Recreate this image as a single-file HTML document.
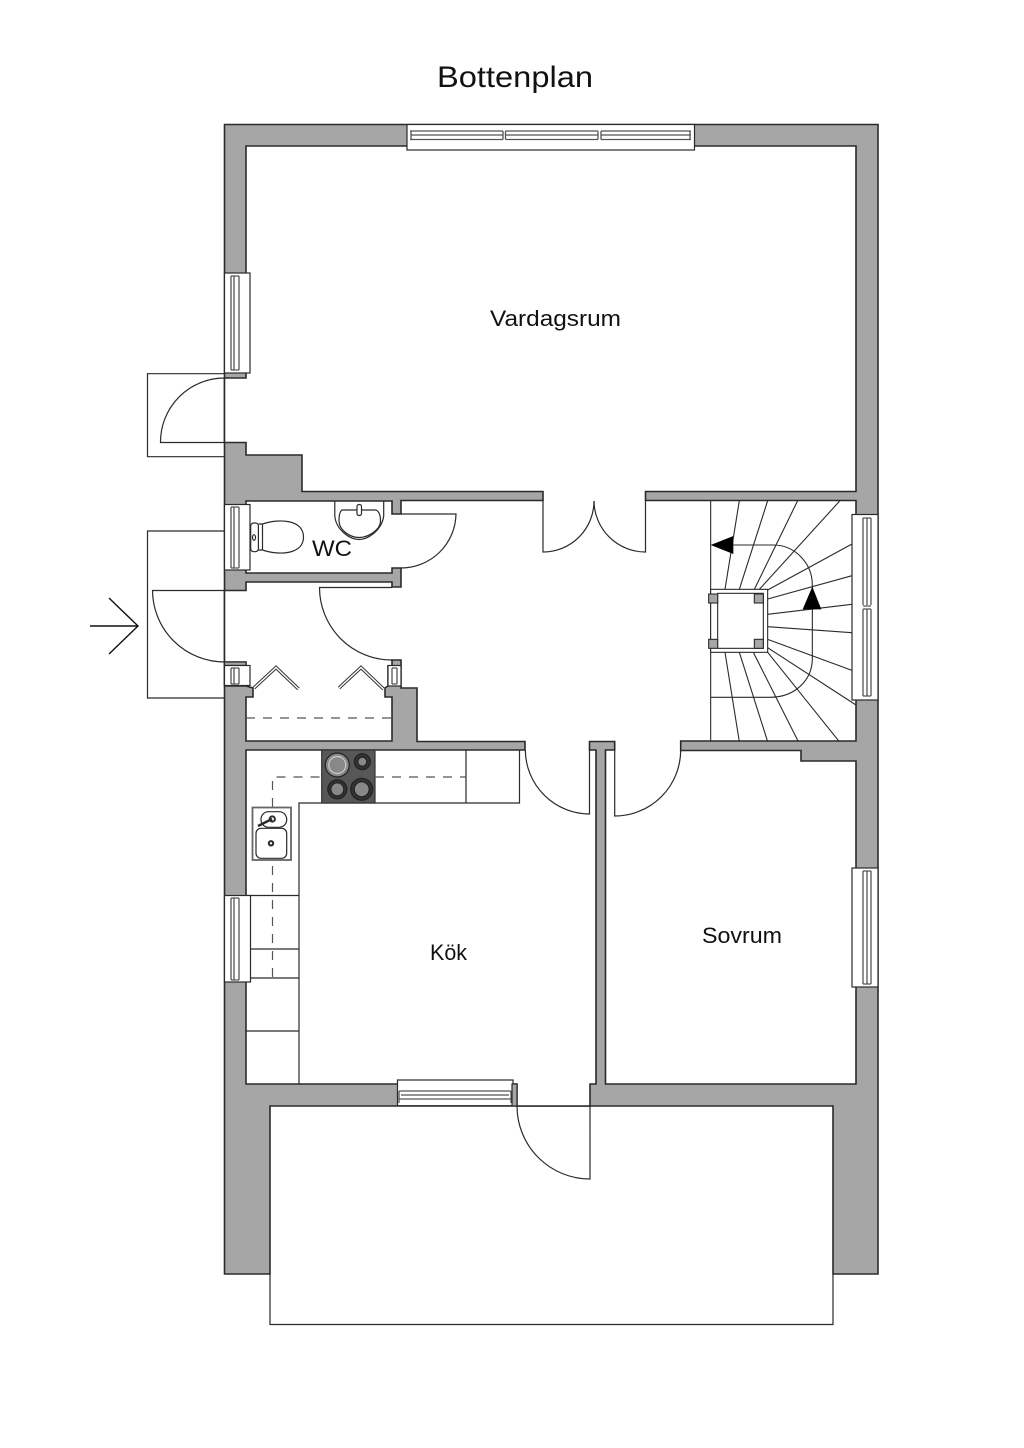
<!DOCTYPE html>
<html><head><meta charset="utf-8"><style>
html,body{margin:0;padding:0;background:#fff}
svg{display:block}
text{font-family:"Liberation Sans",sans-serif;fill:#111}
</style></head><body>
<svg width="1024" height="1448" viewBox="0 0 1024 1448" xmlns="http://www.w3.org/2000/svg">
<rect width="1024" height="1448" fill="#fff"/>
<g stroke="#2a2a2a" stroke-width="1.2" fill="none">
<!-- door outer rects -->
<path d="M224.5 373.7H147.5V456.7H224.5"/>
<path d="M224.5 531H147.5V698H224.5"/>
<!-- walls -->
<path fill="#a6a6a6" stroke-width="1.6" d="M224.5 124.5H878V1274H833V1106H270V1274H224.5Z"/>
<path fill="#fff" stroke-width="1.6" d="M246 146H856V491.5H645.5V500.5H856V741H680.7V750.5H801V761H856V1084H605.5V750H614.7V741.5H589.5V750H596V1084H590V1106H517V1084H246V750H525V741.5H417V688H401V660H392V666H388V686L385 688V697H392V741H246V697H253V688L246 686H224.5V662H246V665H224.5V590.5H246V582H392V587H401V568H392V573H246V501H392V514H401V500.5H543V491.5H302V455H246V442.5H224.5V378H246Z"/>
<rect x="224.5" y="662" width="21.5" height="3.5" fill="#a6a6a6"/>
<!-- balcony -->
<path d="M270 1274V1324.5H833V1274" stroke-width="1.2"/>
<path d="M517 1106H590" stroke-width="1"/>
<!-- door leaves -->
<path d="M224.5 378A64 64 0 0 0 160.5 442.5H224.5"/>
<path d="M224.5 662A72 72 0 0 1 152.5 590.5H224.5"/>
<path d="M392 660A72.5 72.5 0 0 1 319.5 587.5H392"/>
<path d="M401 514H456A55 55 0 0 1 401 568"/>
<path d="M543 500.5V552A51 51 0 0 0 594 501"/>
<path d="M645.5 500.5V552A51.500 51.500 0 0 1 594 501"/>
<path d="M525.3 750A64.500 64.500 0 0 0 589.500 814V750"/>
<path d="M680.700 750A66 66 0 0 1 614.700 816V750"/>
<path d="M517 1106A73 73 0 0 0 590 1179V1106"/>
<!-- kitchen cabinets -->
<path d="M519.500 750V803H299V1084M466 750V803M246 895.500H299M246 949H299M246 978H299M246 1031H299"/>
<!-- windows -->
<g fill="#fff">
<rect x="407" y="124.500" width="287.500" height="25.500"/>
<g stroke="#555" stroke-width="1.300">
<path d="M410 131H503M410 139.500H503M411 135H503M411 131V139.500M503 131V139.500M505.500 131H598M505.500 139.500H598M505.500 135H598M505.500 131V139.500M598 131V139.500M601 131H691M601 139.500H691M601 135H691M601 131V139.500M690 131V139.500"/>
<rect x="224.500" y="273" width="25.500" height="100" stroke="#2a2a2a" stroke-width="1.200"/>
<path d="M231 276V370M239 276V370M234 276V370M231 276H239M231 370H239"/>
<rect x="224.500" y="504.500" width="25.500" height="65.500" stroke="#2a2a2a" stroke-width="1.200"/>
<path d="M231 507V568M239 507V568M234 507V568M231 507H239M231 568H239"/>
<rect x="224.500" y="665.500" width="25.500" height="20" stroke="#2a2a2a" stroke-width="1.200"/>
<path d="M231 668V684M239 668V684M234 668V684M231 668H239M231 684H239"/>
<rect x="388" y="665.500" width="13" height="20.500" stroke="#2a2a2a" stroke-width="1.200"/>
<path d="M392 668V684M397 668V684M392 668H397M392 684H397"/>
<rect x="852" y="514.500" width="26" height="185.500" stroke="#2a2a2a" stroke-width="1.200"/>
<path d="M863 518V605M871 518V605M867 518V605M863 518H871M863 609V696M871 609V696M867 609V696M863 606H871M863 609H871M863 696H871"/>
<rect x="852" y="868" width="26" height="119" stroke="#2a2a2a" stroke-width="1.200"/>
<path d="M863 871V984M871 871V984M867 871V984M863 871H871M863 984H871"/>
<rect x="224.500" y="895.500" width="26" height="86.500" stroke="#2a2a2a" stroke-width="1.200"/>
<path d="M231 898V980M239 898V980M234 898V980M231 898H239M231 980H239"/>
<rect x="397.500" y="1080" width="115.500" height="25.700" stroke="#2a2a2a" stroke-width="1.200"/>
<path d="M399 1091H511M399 1099H511M401 1095H509M399 1091V1103M511 1091V1103"/>
</g>
<rect x="512" y="1084" width="5" height="22" fill="#a6a6a6"/>
</g>
<!-- closet folding doors -->
<path d="M254 688L276 667.500L298.500 689M339 688L361 667.500L383.500 689" stroke="#333" stroke-width="3.400"/>
<path d="M254 688L276 667.500L298.500 689M339 688L361 667.500L383.500 689" stroke="#fff" stroke-width="1.400"/>
<path d="M246 718H392" stroke="#555" stroke-dasharray="9 8"/>
<!-- kitchen -->
<rect x="321.700" y="750" width="53.300" height="53" fill="#575757" stroke="#333"/>
<g stroke="#222">
<circle cx="337.300" cy="765" r="12" fill="#888"/><circle cx="337.300" cy="765" r="8.500" fill="#888" stroke="#ccc"/>
<circle cx="362.300" cy="761.700" r="8" fill="#333"/><circle cx="362.300" cy="761.700" r="4.500" fill="#888"/>
<circle cx="337.300" cy="789.300" r="9.500" fill="#333"/><circle cx="337.300" cy="789.300" r="6.500" fill="#888"/>
<circle cx="361.700" cy="789.300" r="11" fill="#333"/><circle cx="361.700" cy="789.300" r="7.500" fill="#888"/>
</g>
<path d="M272.500 977V777H322M375 777H466" stroke="#555" stroke-dasharray="9 8"/>
<rect x="252.500" y="807.500" width="38.500" height="52.500" fill="#fff" stroke-width="1.800" stroke="#666"/>
<rect x="261" y="811.700" width="25.700" height="15.600" rx="7.500" fill="#fff"/>
<rect x="256" y="828.300" width="30.700" height="30" rx="5" fill="#fff"/>
<circle cx="271" cy="843.300" r="2.200" stroke-width="2"/>
<circle cx="272.300" cy="819" r="2.600" stroke-width="2"/>
<path d="M272 819L258 826" stroke-width="2.400"/>
<!-- WC -->
<rect x="250.700" y="523" width="7.700" height="28.700" rx="3" fill="#fff"/>
<path d="M258.400 524H262.500C280 518 303.500 520 303.500 537C303.500 554 280 556 262.500 550H258.400M262.500 524V550"/>
<ellipse cx="254" cy="537.500" rx="1.500" ry="2.800"/>
<path d="M334.800 501V516C336 530 350 539.500 359 539.500C368 539.500 382 530 383.700 516V501"/>
<path d="M342 510H376C380 512 380.500 518 380.500 521C380.500 530 368 537.500 359 537.500C350 537.500 339 530 339 521C339 518 339 512 342 510Z"/>
<rect x="357" y="504.500" width="4.500" height="11" rx="2" fill="#fff"/>
<!-- stairs -->
<g transform="translate(520 480) scale(.33333)" stroke-width="3.300">
<path d="M572 62V785"/>
<path d="M658 62L615 328M743 62L658 328M833 62L703 328M960 62L718 328M996 192L743 330M996 287L743 357M996 373L743 403M996 458L743 440M996 571L743 478M1008 675L743 503M958 785L743 517M835 785L700 517M743 785L658 517M658 785L615 517"/>
<path d="M640 195H760C825 195 877 250 877 315V535C877 600 825 652 750 652H572"/>
<path d="M572 195L640 168V222Z" fill="#000" stroke="none"/>
<path d="M877 320L848 388H904Z" fill="#000" stroke="none"/>
<rect x="572" y="328" width="171" height="189" fill="#fff"/>
<rect x="593" y="340" width="137" height="165" fill="#fff"/>
<rect x="566" y="342" width="27" height="27" fill="#a6a6a6"/>
<rect x="703" y="342" width="27" height="27" fill="#a6a6a6"/>
<rect x="566" y="478" width="27" height="27" fill="#a6a6a6"/>
<rect x="703" y="478" width="27" height="27" fill="#a6a6a6"/>
</g>
<!-- entry arrow -->
<path d="M90 626H137M109 598L138 626L109 654" stroke="#111" stroke-width="1.400"/>
</g>
<text x="437" y="87" font-size="30" textLength="156" lengthAdjust="spacingAndGlyphs">Bottenplan</text>
<text x="490" y="326" font-size="22" textLength="131" lengthAdjust="spacingAndGlyphs">Vardagsrum</text>
<text x="312" y="556" font-size="22" textLength="40" lengthAdjust="spacingAndGlyphs">WC</text>
<text x="430" y="960" font-size="22" textLength="37" lengthAdjust="spacingAndGlyphs">Kök</text>
<text x="702" y="943" font-size="22" textLength="80" lengthAdjust="spacingAndGlyphs">Sovrum</text>
</svg>
</body></html>
